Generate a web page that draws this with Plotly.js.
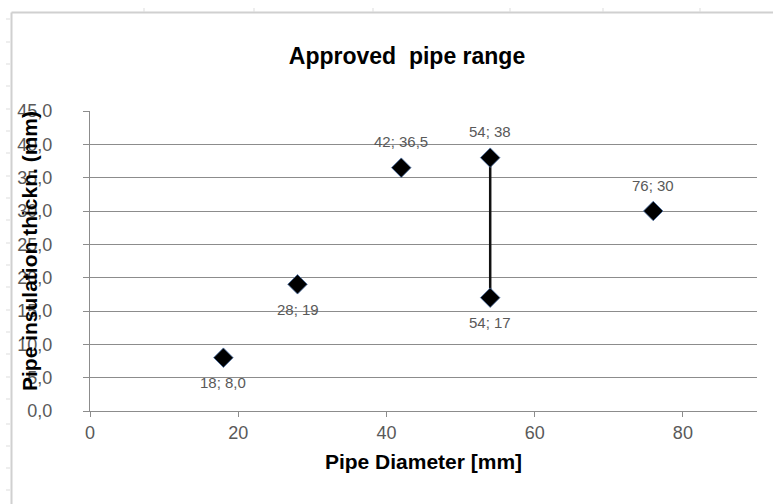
<!DOCTYPE html>
<html>
<head>
<meta charset="utf-8">
<script src="https://cdn.plot.ly/plotly-3.0.1.min.js"></script>
<style>html,body{margin:0;padding:0;background:#fff;}#chart{width:773px;height:504px;}</style>
</head>
<body>
<div id="chart"></div>
<script>
// Data
var diameters = [18, 28, 42, 54, 54, 76];
var thickness = [8.0, 19, 36.5, 38, 17, 30];
var pointLabels = ["18; 8,0", "28; 19", "42; 36,5", "54; 38", "54; 17", "76; 30"];
var labelAbove = [false, false, true, true, false, true];
var rangeX = [54, 54];
var rangeY = [17, 38];
var xTicks = [0, 20, 40, 60, 80];
var yTicks = [0, 5, 10, 15, 20, 25, 30, 35, 40, 45];

var W = 773, H = 504, L = 90, R = 16, T = 111, B = 93;
var pw = W - L - R, ph = H - T - B;
function px(x) { return (x - L) / pw; }
function py(y) { return (H - B - y) / ph; }
var FONT = 'Liberation Sans, Arial, sans-serif';

var shapes = [];
var bc = '#d0d0d0';
shapes.push({type: 'line', xref: 'paper', yref: 'paper', x0: px(11.5), x1: px(11.5), y0: py(12.5), y1: py(504), line: {color: bc, width: 2}});
shapes.push({type: 'line', xref: 'paper', yref: 'paper', x0: px(11.5), x1: px(773), y0: py(12.5), y1: py(12.5), line: {color: bc, width: 2}});
[19, 42, 64, 86, 109, 131, 153, 176, 198, 220, 243, 265, 287, 310, 332, 354, 377, 399, 424, 446, 468, 490].forEach(function (y) {
  shapes.push({type: 'line', xref: 'paper', yref: 'paper', x0: px(6), x1: px(10), y0: py(y), y1: py(y), line: {color: '#dddddd', width: 1}});
});
[144, 254, 373, 510, 603, 700].forEach(function (x) {
  shapes.push({type: 'line', xref: 'paper', yref: 'paper', x0: px(x), x1: px(x), y0: py(8), y1: py(12), line: {color: '#dddddd', width: 1}});
});

var traces = [
  {
    x: rangeX, y: rangeY, mode: 'lines', type: 'scatter',
    line: {color: '#111111', width: 2.5}, hoverinfo: 'skip', showlegend: false
  },
  {
    x: diameters, y: thickness, mode: 'markers', type: 'scatter',
    marker: {symbol: 'diamond', size: 15, color: '#000000', line: {color: '#4a6fa5', width: 0.8}},
    showlegend: false
  }
];

var annotations = diameters.map(function (d, i) {
  return {
    x: d, y: thickness[i], xref: 'x', yref: 'y', text: pointLabels[i], showarrow: false,
    xanchor: 'center', yanchor: 'middle', yshift: labelAbove[i] ? 26 : -25,
    font: {family: FONT, size: 15, color: '#595959'}
  };
});
annotations.push({
  text: '<b>Pipe insulation thickn. (mm)</b>', textangle: -90,
  xref: 'paper', yref: 'paper', x: px(29), y: py(251), xanchor: 'center', yanchor: 'middle',
  showarrow: false, font: {family: FONT, size: 21, color: '#000000'}
});

var axisFont = {family: FONT, size: 18, color: '#595959'};
var layout = {
  width: W, height: H,
  margin: {l: L, r: R, t: T, b: B, pad: 0},
  paper_bgcolor: '#ffffff', plot_bgcolor: '#ffffff',
  separators: ', ',
  showlegend: false,
  title: {
    text: '<b>Approved  pipe range</b>',
    font: {family: FONT, size: 23, color: '#000000'},
    x: 407 / W, xanchor: 'center', y: 1 - 56 / H, yanchor: 'middle'
  },
  xaxis: {
    range: [0, 90], tickvals: xTicks, ticktext: xTicks.map(String),
    showgrid: false, zeroline: false, showline: true, linecolor: '#8c8c8c', linewidth: 1,
    ticks: 'outside', ticklen: 5, tickcolor: '#8c8c8c', tickfont: axisFont,
    title: {text: '<b>Pipe Diameter [mm]</b>', font: {family: FONT, size: 21, color: '#000000'}, standoff: 12}
  },
  yaxis: {
    range: [0, 45], tickvals: yTicks, tickformat: '.1f',
    showgrid: true, gridcolor: '#8c8c8c', gridwidth: 1,
    zeroline: false, showline: true, linecolor: '#8c8c8c', linewidth: 1,
    ticks: 'outside', ticklen: 6, tickcolor: '#8c8c8c', tickfont: axisFont, ticklabelstandoff: 27
  },
  shapes: shapes,
  annotations: annotations
};

Plotly.newPlot('chart', traces, layout, {displayModeBar: false, staticPlot: true});
</script>
</body>
</html>
